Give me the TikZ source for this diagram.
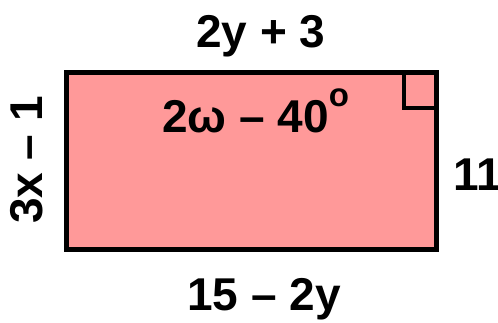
\documentclass[tikz,border=0pt]{standalone}
\usepackage{fontspec}
\setmainfont{Liberation Sans}
\definecolor{rectpink}{RGB}{255,153,153}
\begin{document}
\begin{tikzpicture}[x=1pt,y=1pt,
  lbl/.style={font=\fontsize{46}{50}\selectfont\bfseries, inner sep=0pt, text=black}]
\useasboundingbox (0,0) rectangle (498,-322);
\draw[line width=5pt, fill=rectpink] (66,-72.5) rectangle (436,-249.5);
\coordinate (ra1) at (404,-72.5);
\coordinate (ra2) at (404,-108);
\coordinate (ra3) at (436,-108);
\draw[line width=4.5pt] (ra1) -- (ra2) -- (ra3);
\node[lbl, anchor=base] (top) at (261,-47) {2y + 3};
\node[lbl, anchor=base] (bottom) at (264,-310) {15 – 2y};
\node[lbl, anchor=base west] (right) at (453,-190) {11};
\node[lbl, anchor=base, rotate=90] (left) at (42,-160) {3x – 1};
\node[lbl, anchor=base west] (angle) at (162,-132) {2ω – 40\raisebox{26pt}{\fontsize{33}{36}\selectfont o}};
\end{tikzpicture}
\end{document}
